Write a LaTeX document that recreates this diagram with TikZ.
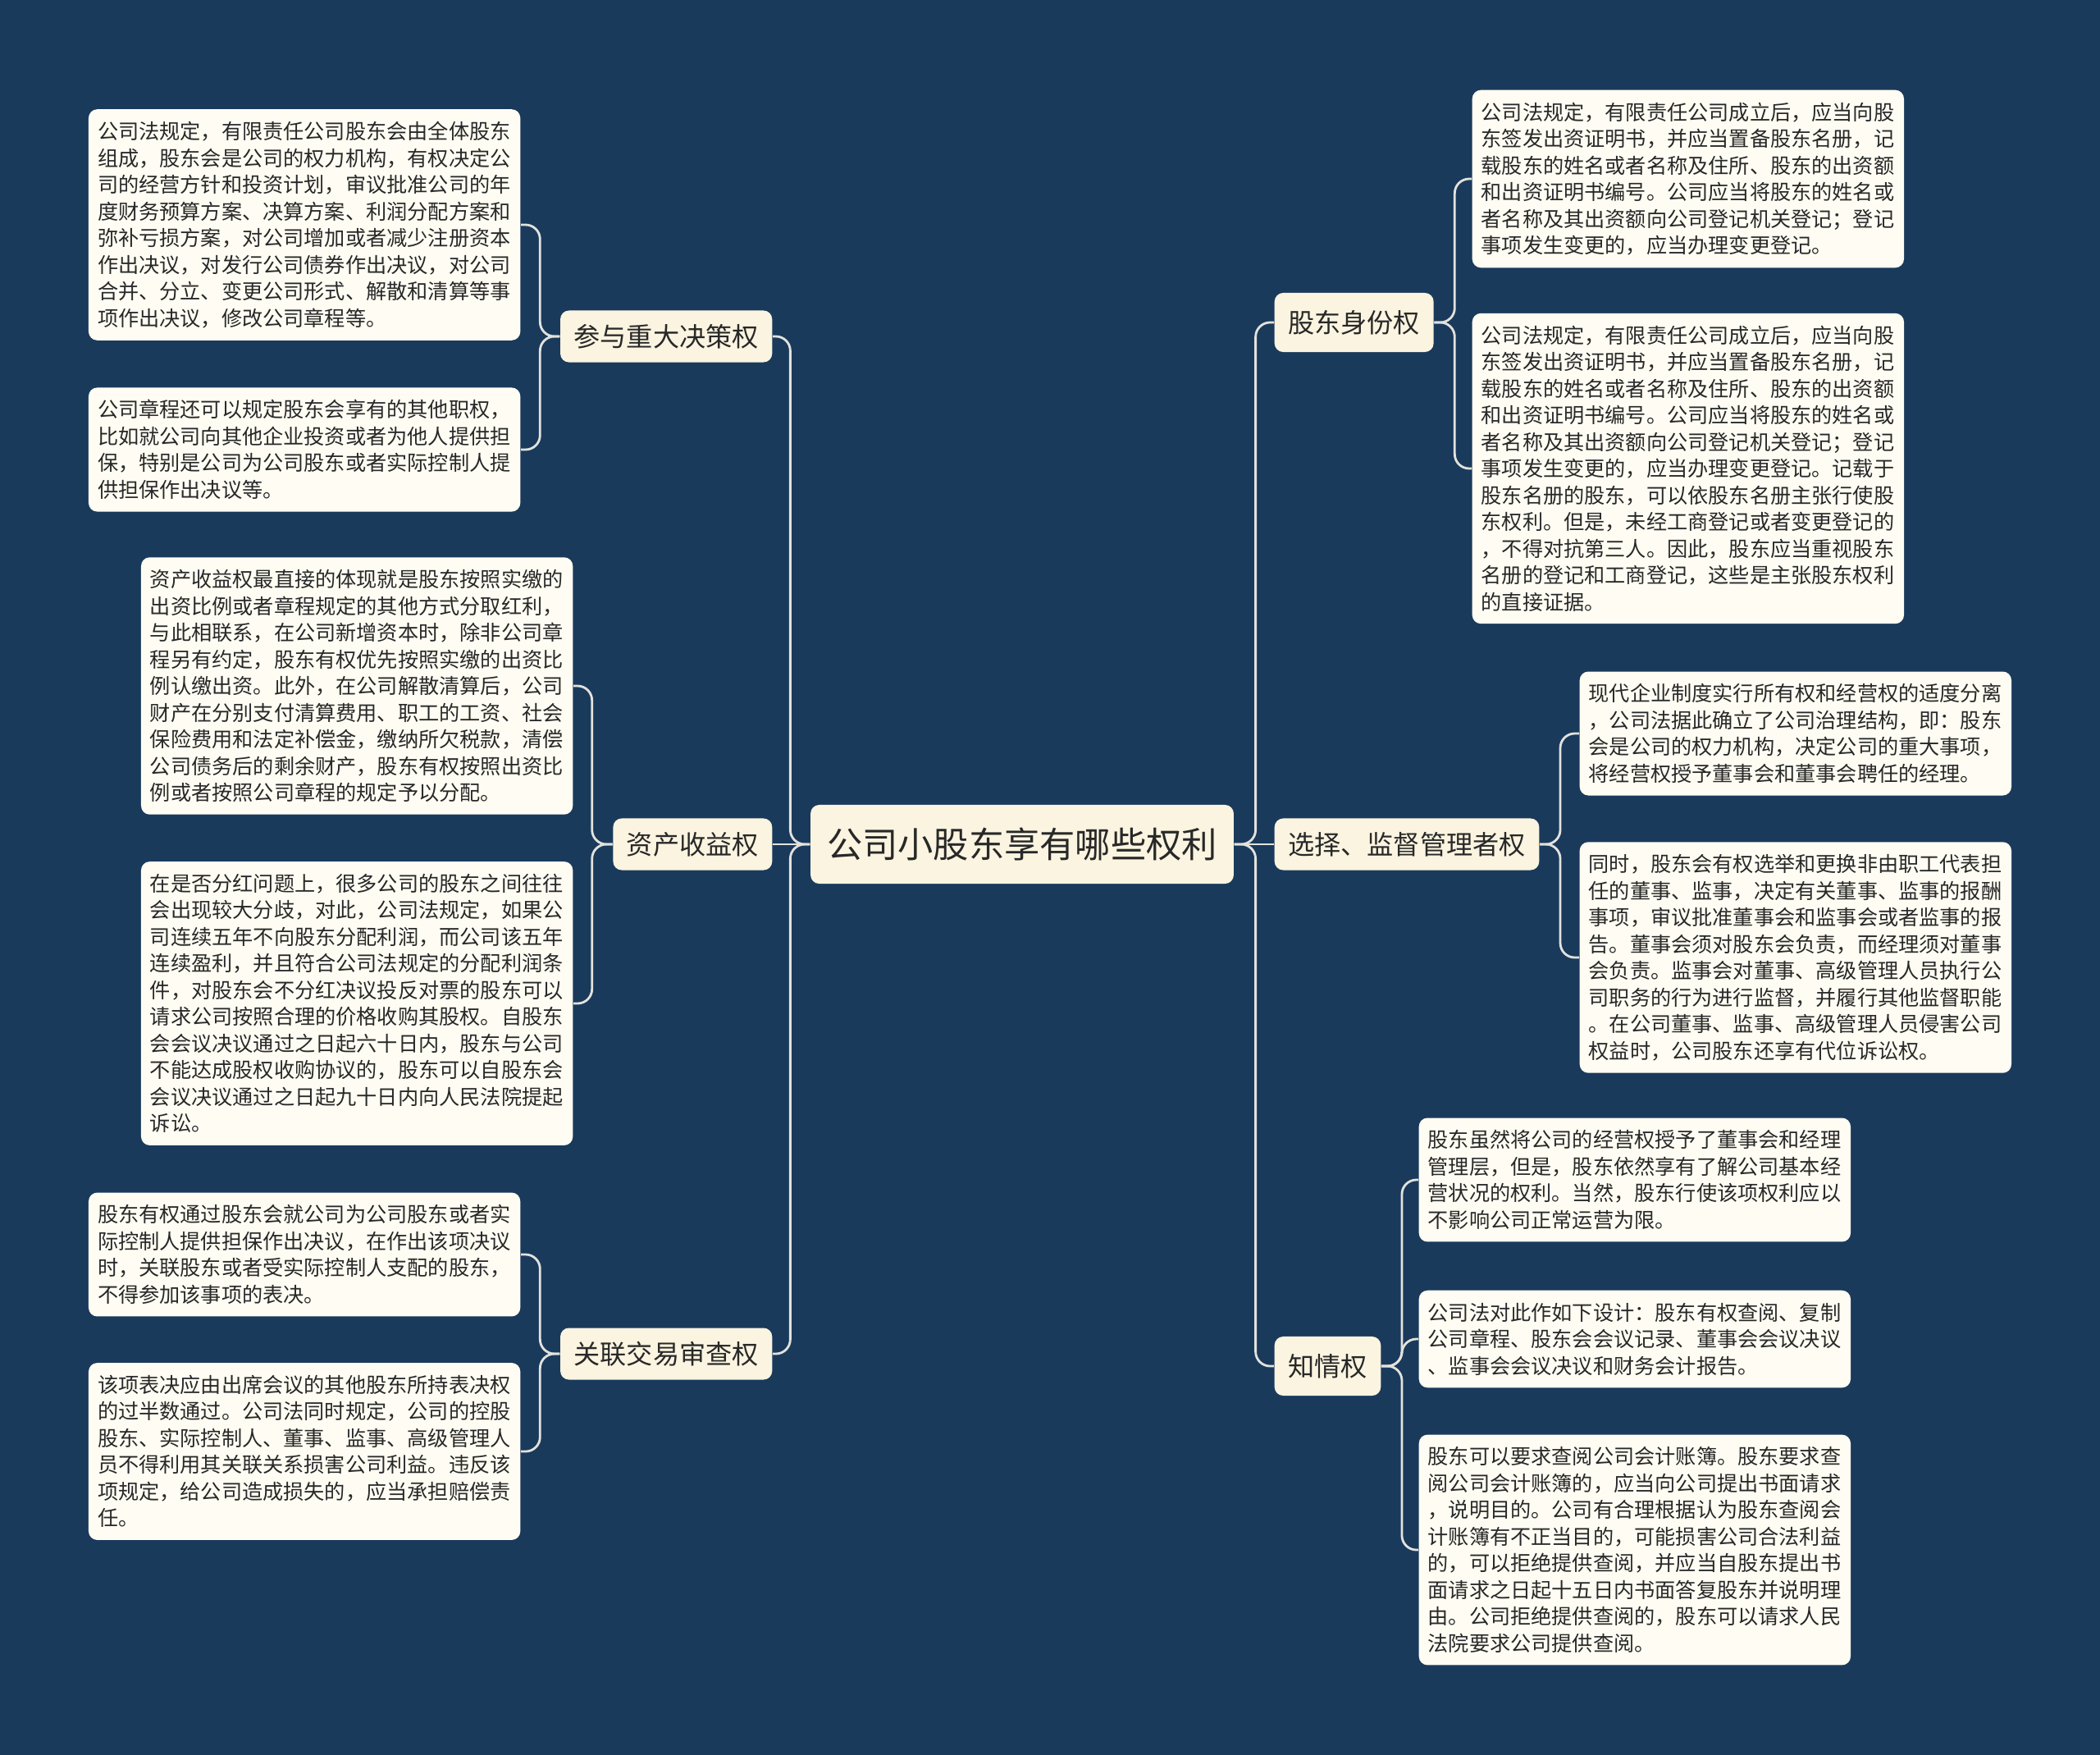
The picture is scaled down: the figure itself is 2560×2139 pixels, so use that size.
\documentclass[tikz,border=0pt]{standalone}
\usepackage{fontspec}
\setmainfont{Noto Sans CJK SC}
\usepackage{tikz}
\usetikzlibrary{positioning}
\usepackage{xcolor}
\definecolor{bgnavy}{RGB}{26, 58, 92}
\definecolor{leafcream}{RGB}{255, 253, 243}
\definecolor{branchcream}{RGB}{250, 244, 224}
\definecolor{linkgray}{RGB}{226, 226, 220}
\definecolor{inktext}{RGB}{40, 40, 40}
\tikzset{
  rootbox/.style   = {rectangle, rounded corners=3pt, fill=branchcream, text=inktext, font=\fontsize{12.3pt}{14pt}\selectfont, inner xsep=0.2cm, minimum height=0.96cm},
  branchbox/.style = {rectangle, rounded corners=3pt, fill=branchcream, text=inktext, font=\fontsize{9.15pt}{11pt}\selectfont, inner xsep=0.165cm, minimum height=0.63cm},
  leafbox/.style   = {rectangle, rounded corners=3pt, fill=leafcream, text=inktext, font=\fontsize{7.16pt}{9.24pt}\selectfont, text width=5.04cm, align=left, inner xsep=0.11cm, inner ysep=0.15cm},
  link/.style      = {draw=linkgray, line width=0.8pt, rounded corners=5pt},
}

\begin{document}
\begin{tikzpicture}[x=0.01cm, y=-0.01cm]

% ===== 背景 =====
\fill[bgnavy] (0,0) rectangle (2560,2139);
\useasboundingbox (0,0) rectangle (2560,2139);

% ===== 中心 =====
\node[rootbox] (root) at (1246,1029) {公司小股东享有哪些权利};

% ===== 左侧分支 =====
\node[branchbox, anchor=east] (juece) at (942,410) {参与重大决策权};
\node[branchbox, anchor=east] (shouyi) at (942,1029) {资产收益权};
\node[branchbox, anchor=east] (guanlian) at (942,1650) {关联交易审查权};

% ===== 右侧分支 =====
\node[branchbox, anchor=west, minimum height=0.72cm] (shenfen) at (1553,393) {股东身份权};
\node[branchbox, anchor=west] (jiandu) at (1553,1029) {选择、监督管理者权};
\node[branchbox, anchor=west, minimum height=0.72cm] (zhiqing) at (1553,1665) {知情权};

% ===== 左侧说明 =====
\node[leafbox, anchor=east] (juece1) at (635,274) {公司法规定，有限责任公司股东会由全体股东\\组成，股东会是公司的权力机构，有权决定公\\司的经营方针和投资计划，审议批准公司的年\\度财务预算方案、决算方案、利润分配方案和\\弥补亏损方案，对公司增加或者减少注册资本\\作出决议，对发行公司债券作出决议，对公司\\合并、分立、变更公司形式、解散和清算等事\\项作出决议，修改公司章程等。};
\node[leafbox, anchor=east] (juece2) at (635,548) {公司章程还可以规定股东会享有的其他职权，\\比如就公司向其他企业投资或者为他人提供担\\保，特别是公司为公司股东或者实际控制人提\\供担保作出决议等。};
\node[leafbox, anchor=east] (shouyi1) at (699,836) {资产收益权最直接的体现就是股东按照实缴的\\出资比例或者章程规定的其他方式分取红利，\\与此相联系，在公司新增资本时，除非公司章\\程另有约定，股东有权优先按照实缴的出资比\\例认缴出资。此外，在公司解散清算后，公司\\财产在分别支付清算费用、职工的工资、社会\\保险费用和法定补偿金，缴纳所欠税款，清偿\\公司债务后的剩余财产，股东有权按照出资比\\例或者按照公司章程的规定予以分配。};
\node[leafbox, anchor=east] (shouyi2) at (699,1223) {在是否分红问题上，很多公司的股东之间往往\\会出现较大分歧，对此，公司法规定，如果公\\司连续五年不向股东分配利润，而公司该五年\\连续盈利，并且符合公司法规定的分配利润条\\件，对股东会不分红决议投反对票的股东可以\\请求公司按照合理的价格收购其股权。自股东\\会会议决议通过之日起六十日内，股东与公司\\不能达成股权收购协议的，股东可以自股东会\\会议决议通过之日起九十日内向人民法院提起\\诉讼。};
\node[leafbox, anchor=east] (guanlian1) at (635,1529) {股东有权通过股东会就公司为公司股东或者实\\际控制人提供担保作出决议，在作出该项决议\\时，关联股东或者受实际控制人支配的股东，\\不得参加该事项的表决。};
\node[leafbox, anchor=east] (guanlian2) at (635,1769) {该项表决应由出席会议的其他股东所持表决权\\的过半数通过。公司法同时规定，公司的控股\\股东、实际控制人、董事、监事、高级管理人\\员不得利用其关联关系损害公司利益。违反该\\项规定，给公司造成损失的，应当承担赔偿责\\任。};

% ===== 右侧说明 =====
\node[leafbox, anchor=west] (shenfen1) at (1794,218) {公司法规定，有限责任公司成立后，应当向股\\东签发出资证明书，并应当置备股东名册，记\\载股东的姓名或者名称及住所、股东的出资额\\和出资证明书编号。公司应当将股东的姓名或\\者名称及其出资额向公司登记机关登记；登记\\事项发生变更的，应当办理变更登记。};
\node[leafbox, anchor=west] (shenfen2) at (1794,571) {公司法规定，有限责任公司成立后，应当向股\\东签发出资证明书，并应当置备股东名册，记\\载股东的姓名或者名称及住所、股东的出资额\\和出资证明书编号。公司应当将股东的姓名或\\者名称及其出资额向公司登记机关登记；登记\\事项发生变更的，应当办理变更登记。记载于\\股东名册的股东，可以依股东名册主张行使股\\东权利。但是，未经工商登记或者变更登记的\\，不得对抗第三人。因此，股东应当重视股东\\名册的登记和工商登记，这些是主张股东权利\\的直接证据。};
\node[leafbox, anchor=west] (jiandu1) at (1925,894) {现代企业制度实行所有权和经营权的适度分离\\，公司法据此确立了公司治理结构，即：股东\\会是公司的权力机构，决定公司的重大事项，\\将经营权授予董事会和董事会聘任的经理。};
\node[leafbox, anchor=west] (jiandu2) at (1925,1167) {同时，股东会有权选举和更换非由职工代表担\\任的董事、监事，决定有关董事、监事的报酬\\事项，审议批准董事会和监事会或者监事的报\\告。董事会须对股东会负责，而经理须对董事\\会负责。监事会对董事、高级管理人员执行公\\司职务的行为进行监督，并履行其他监督职能\\。在公司董事、监事、高级管理人员侵害公司\\权益时，公司股东还享有代位诉讼权。};
\node[leafbox, anchor=west] (zhiqing1) at (1729,1438) {股东虽然将公司的经营权授予了董事会和经理\\管理层，但是，股东依然享有了解公司基本经\\营状况的权利。当然，股东行使该项权利应以\\不影响公司正常运营为限。};
\node[leafbox, anchor=west] (zhiqing2) at (1729,1632) {公司法对此作如下设计：股东有权查阅、复制\\公司章程、股东会会议记录、董事会会议决议\\、监事会会议决议和财务会计报告。};
\node[leafbox, anchor=west] (zhiqing3) at (1729,1889) {股东可以要求查阅公司会计账簿。股东要求查\\阅公司会计账簿的，应当向公司提出书面请求\\，说明目的。公司有合理根据认为股东查阅会\\计账簿有不正当目的，可能损害公司合法利益\\的，可以拒绝提供查阅，并应当自股东提出书\\面请求之日起十五日内书面答复股东并说明理\\由。公司拒绝提供查阅的，股东可以请求人民\\法院要求公司提供查阅。};

% ===== 连线：中心到分支 =====
\draw[link] (root.west) -- ++(-24,0) |- (juece.east);
\draw[link] (root.west) -- (shouyi.east);
\draw[link] (root.west) -- ++(-24,0) |- (guanlian.east);
\draw[link] (root.east) -- ++(26,0) |- (shenfen.west);
\draw[link] (root.east) -- (jiandu.west);
\draw[link] (root.east) -- ++(26,0) |- (zhiqing.west);

% ===== 连线：分支到说明 =====
\draw[link] (juece.west) -- ++(-24,0) |- (juece1.east);
\draw[link] (juece.west) -- ++(-24,0) |- (juece2.east);
\draw[link] (shouyi.west) -- ++(-25,0) |- (shouyi1.east);
\draw[link] (shouyi.west) -- ++(-25,0) |- (shouyi2.east);
\draw[link] (guanlian.west) -- ++(-24,0) |- (guanlian1.east);
\draw[link] (guanlian.west) -- ++(-24,0) |- (guanlian2.east);
\draw[link] (shenfen.east) -- ++(25,0) |- (shenfen1.west);
\draw[link] (shenfen.east) -- ++(25,0) |- (shenfen2.west);
\draw[link] (jiandu.east) -- ++(25,0) |- (jiandu1.west);
\draw[link] (jiandu.east) -- ++(25,0) |- (jiandu2.west);
\draw[link] (zhiqing.east) -- ++(25,0) |- (zhiqing1.west);
\draw[link] (zhiqing.east) -- ++(25,0) |- (zhiqing2.west);
\draw[link] (zhiqing.east) -- ++(25,0) |- (zhiqing3.west);

\end{tikzpicture}
\end{document}
